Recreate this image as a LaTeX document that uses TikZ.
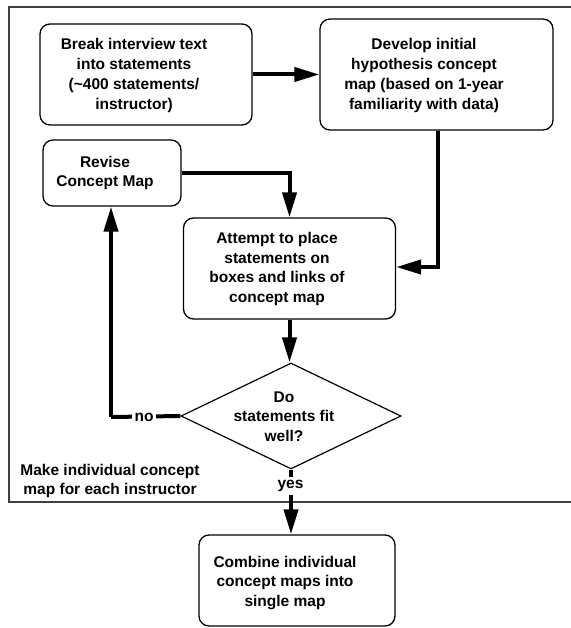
\documentclass[tikz,border=0pt]{standalone}
\usepackage{fontspec}
\setmainfont{Liberation Sans}
\usetikzlibrary{arrows.meta,shapes.geometric}
\begin{document}
\begin{tikzpicture}[x=1pt,y=-1pt,
  boxstyle/.style={draw, rounded corners=10pt, line width=1.3pt, inner sep=0pt},
  txt/.style={font=\bfseries\fontsize{15.5}{19.7}\selectfont, align=center, inner sep=0pt},
  flow/.style={line width=4pt, -{Triangle[length=25pt,width=14pt]}},
  plainflow/.style={line width=4pt}
]
\useasboundingbox (0,0) rectangle (570,628);
% frame
\draw[line width=1.5pt, black!75] (575,7) -- (9,7) -- (9,502) -- (575,502);
% boxes
\node[boxstyle, minimum width=212pt, minimum height=101pt] (b1) at (146,74.5) {};
\node[boxstyle, minimum width=233pt, minimum height=111pt] (b2) at (436.5,74.5) {};
\node[boxstyle, minimum width=138pt, minimum height=66pt] (b3) at (112,173) {};
\node[boxstyle, minimum width=212pt, minimum height=101pt] (b4) at (289.5,268.5) {};
\node[boxstyle, minimum width=196pt, minimum height=91pt] (b5) at (297,580.5) {};
\node[draw, diamond, line width=1.2pt, inner sep=0pt, aspect=2.075, minimum width=220pt, minimum height=106pt] (d) at (291,416) {};
% texts
\node[txt] (t1) at (134,75.5) {Break interview text\\into statements\\(\textasciitilde400 statements/\\instructor)};
\node[txt] (t2) at (424,75.5) {Develop initial\\hypothesis concept\\map (based on 1-year\\familiarity with data)};
\node[txt] (t3) at (105,173) {Revise\\Concept Map};
\node[txt] (t4) at (277,269) {Attempt to place\\statements on\\boxes and links of\\concept map};
\node[txt] (t5) at (285,583) {Combine individual\\concept maps into\\single map};
\node[txt] (td) at (284,416.5) {Do\\statements fit\\well?};
\node[txt] (tm) at (110,481) {Make individual concept\\map for each instructor};
% connectors
\draw[flow] (b1.east) -- (b2.west);
\draw[flow] (b2.south -| 438,0) |- (b4.east |- 0,267);
\draw[flow] (b3.east) -| (b4.north);
\draw[flow] (b4.south) -- (b4.south |- d.north);
\coordinate (nocorner) at (111,417);
\draw[plainflow] (d.west) -- (nocorner);
\draw[flow] (nocorner) -- (nocorner |- b3.south);
\node[txt, fill=white, inner sep=3pt] (no) at (144,417) {no};
\draw[flow] (d.south) -- (d.south |- b5.north);
\node[txt, fill=white, inner sep=3pt] (yes) at (290.5,486) {yes};
\end{tikzpicture}
\end{document}
